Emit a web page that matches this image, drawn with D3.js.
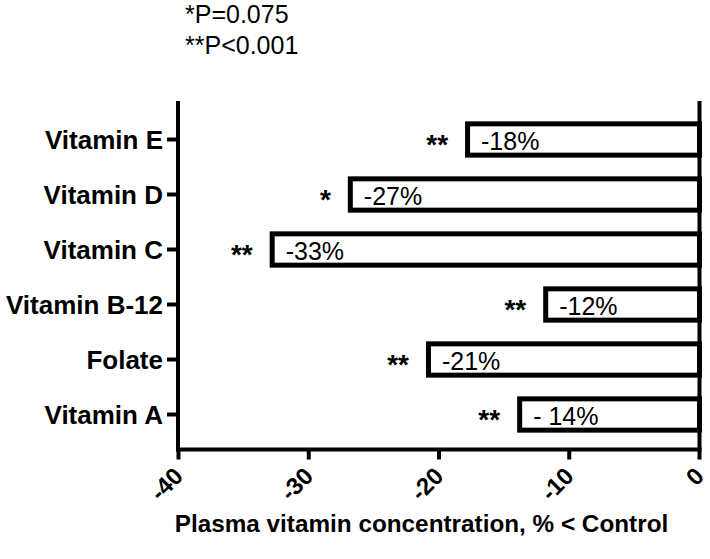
<!DOCTYPE html>
<html><head><meta charset="utf-8">
<script src="https://cdn.jsdelivr.net/npm/d3@7"></script>
<style>body{margin:0;background:#fff}text{font-family:"Liberation Sans",Arial,sans-serif}</style>
</head><body>
<svg id="c" width="710" height="559"></svg>
<script>
const categories = ["Vitamin E","Vitamin D","Vitamin C","Vitamin B-12","Folate","Vitamin A"];
const values = [-18,-27,-33,-12,-21,-14];
const barLabels = ["-18%","-27%","-33%","-12%","-21%","- 14%"];
const stars = ["**","*","**","**","**","**"];
const xTicks = [-40,-30,-20,-10,0];
const legendLines = ["*P=0.075","**P<0.001"];
const xTitle = "Plasma vitamin concentration, % < Control";

const svg = d3.select("#c");
const x = d3.scaleLinear().domain([-40,0]).range([178.5,699.5]);
const y = d3.scaleBand().domain(categories).range([112,442]).paddingInner(0.34).paddingOuter(0.17);
const axisTop = 101, axisBottom = 449.5;
const cy = d => y(d) + y.bandwidth()/2;

// bars
const sw = 5;
svg.selectAll("rect.bar").data(values).join("rect")
  .attr("x", d => x(d) + sw/2)
  .attr("y", (d,i) => y(categories[i]) + sw/2)
  .attr("width", d => x(0) - x(d) - sw/2)
  .attr("height", y.bandwidth() - sw)
  .attr("fill","#fff").attr("stroke","#000").attr("stroke-width",sw);

// bar labels
svg.selectAll("text.bl").data(barLabels).join("text")
  .attr("x",(d,i)=>x(values[i])+16)
  .attr("y",(d,i)=>cy(categories[i])+10)
  .attr("font-size",25).text(d=>d);

// stars
svg.selectAll("text.st").data(stars).join("text")
  .attr("x",(d,i)=>x(values[i])-17)
  .attr("y",(d,i)=>cy(categories[i])+14)
  .attr("text-anchor","end").attr("font-size",28).attr("font-weight","bold").text(d=>d);

// y axis
svg.append("line").attr("x1",178).attr("x2",178).attr("y1",axisTop).attr("y2",axisBottom+2)
  .attr("stroke","#000").attr("stroke-width",4);
svg.selectAll("line.yt").data(categories).join("line")
  .attr("x1",167).attr("x2",178)
  .attr("y1",d=>cy(d)).attr("y2",d=>cy(d))
  .attr("stroke","#000").attr("stroke-width",4);
svg.selectAll("text.yl").data(categories).join("text")
  .attr("x",163).attr("y",d=>cy(d)+9)
  .attr("text-anchor","end").attr("font-size",26).attr("font-weight","bold").text(d=>d);

// x axis
svg.append("line").attr("x1",176).attr("x2",701.5).attr("y1",axisBottom).attr("y2",axisBottom)
  .attr("stroke","#000").attr("stroke-width",4);
svg.append("line").attr("x1",x(0)).attr("x2",x(0)).attr("y1",axisTop).attr("y2",axisBottom)
  .attr("stroke","#000").attr("stroke-width",4);
svg.selectAll("line.xt").data(xTicks).join("line")
  .attr("x1",d=>x(d)).attr("x2",d=>x(d)).attr("y1",axisBottom).attr("y2",axisBottom+10)
  .attr("stroke","#000").attr("stroke-width",4);
svg.selectAll("text.xl").data(xTicks).join("text")
  .attr("transform",d=>`translate(${x(d)+6},${axisBottom+28}) rotate(-45)`)
  .attr("text-anchor","end").attr("font-size",24).attr("font-weight","bold").text(d=>d);

svg.append("text").attr("x",421.5).attr("y",532).attr("text-anchor","middle")
  .attr("font-size",24.3).attr("font-weight","bold").text(xTitle);

svg.selectAll("text.lg").data(legendLines).join("text")
  .attr("x",185).attr("y",(d,i)=>23+i*31).attr("font-size",25).text(d=>d);
</script>
</body></html>
